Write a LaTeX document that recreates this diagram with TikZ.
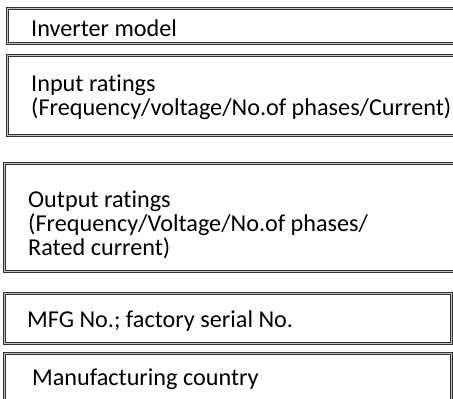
\documentclass[tikz,border=0pt]{standalone}
\usepackage{fontspec}
\setmainfont{Carlito}[Ligatures={NoCommon}]
\begin{document}
\begin{tikzpicture}[x=1bp,y=-1bp,
  box/.style={draw=black!80, line width=1.1bp, double=gray!50, double distance=1.5bp},
  txt/.style={anchor=base west, inner sep=0pt, font=\fontsize{24.3}{24}\selectfont}]
\useasboundingbox (0,0) rectangle (453,398);
\clip (0,0) rectangle (453,398);
\fill[white] (0,0) rectangle (453,398);
% boxes
\draw[box] (7.5,8.5) rectangle (470,43.5);
\draw[box] (7.5,55.5) rectangle (470,135.5);
\draw[box] (4.5,163.5) rectangle (470,271.5);
\draw[box] (4.5,293.5) rectangle (451.5,343.5);
\draw[box] (4.5,353.5) rectangle (451.5,420);
% texts
\node[txt] (t1) at (31,36) {Inverter model};
\node[txt] (t2a) at (31,91) {Input ratings};
\node[txt] (t2b) at (31,115) {(Frequency/voltage/No.of phases/Current)};
\node[txt] (t3a) at (28,207) {Output ratings};
\node[txt] (t3b) at (28,231) {(Frequency/Voltage/No.of phases/};
\node[txt] (t3c) at (28,255) {Rated current)};
\node[txt] (t4) at (27,327) {MFG No.; factory serial No.};
\node[txt] (t5) at (32,385) {Manufacturing country};
\end{tikzpicture}
\end{document}
